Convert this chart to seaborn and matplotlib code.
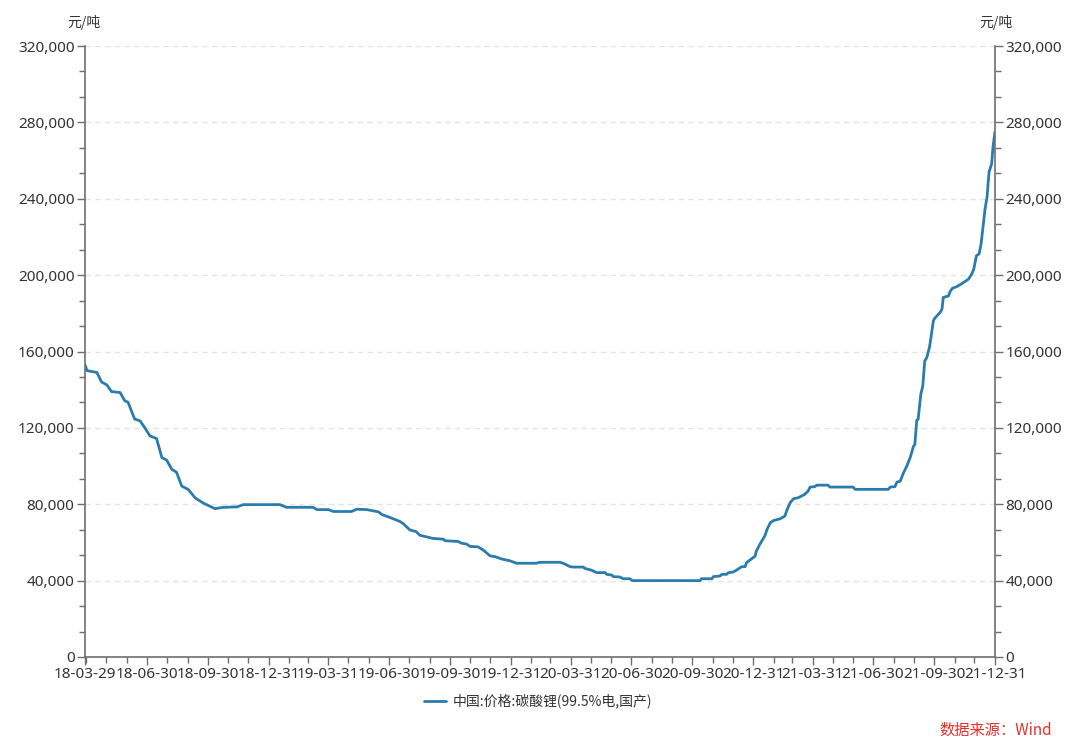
import matplotlib
matplotlib.use('Agg')
import matplotlib.pyplot as plt
import matplotlib.dates as mdates
import matplotlib.ticker as mticker
import seaborn as sns
import pandas as pd

# ---------------- data ----------------
series_name = "中国:价格:碳酸锂(99.5%电,国产)"
unit_label = "元/吨"
source_text = "数据来源：Wind"

dates = [
    "2018-03-29", "2018-04-01", "2018-04-16", "2018-04-23", "2018-05-01", "2018-05-08",
    "2018-05-21", "2018-05-28", "2018-06-02", "2018-06-07", "2018-06-12", "2018-06-20",
    "2018-06-27", "2018-07-05", "2018-07-15", "2018-07-23", "2018-07-30", "2018-08-07",
    "2018-08-14", "2018-08-22", "2018-09-01", "2018-09-11", "2018-09-23", "2018-10-11",
    "2018-10-24", "2018-11-13", "2018-11-23", "2019-01-17", "2019-01-27", "2019-03-08",
    "2019-03-14", "2019-03-31", "2019-04-08", "2019-05-05", "2019-05-13", "2019-05-28",
    "2019-06-15", "2019-06-20", "2019-07-02", "2019-07-17", "2019-07-22", "2019-08-01",
    "2019-08-11", "2019-08-16", "2019-08-24", "2019-09-05", "2019-09-21", "2019-09-23",
    "2019-10-13", "2019-10-18", "2019-10-26", "2019-10-31", "2019-11-12", "2019-11-20",
    "2019-11-30", "2019-12-08", "2019-12-18", "2019-12-30", "2020-01-09", "2020-02-08",
    "2020-02-13", "2020-03-15", "2020-03-22", "2020-03-30", "2020-04-04", "2020-04-19",
    "2020-04-21", "2020-05-01", "2020-05-09", "2020-05-22", "2020-05-24", "2020-06-01",
    "2020-06-03", "2020-06-13", "2020-06-18", "2020-06-28", "2020-07-02", "2020-10-12",
    "2020-10-14", "2020-10-30", "2020-11-01", "2020-11-11", "2020-11-14", "2020-11-21",
    "2020-11-24", "2020-12-01", "2020-12-06", "2020-12-14", "2020-12-19", "2020-12-21",
    "2020-12-29", "2021-01-03", "2021-01-05", "2021-01-10", "2021-01-13", "2021-01-18",
    "2021-01-21", "2021-01-26", "2021-01-31", "2021-02-10", "2021-02-17", "2021-02-20",
    "2021-02-25", "2021-03-02", "2021-03-09", "2021-03-14", "2021-03-19", "2021-03-24",
    "2021-03-27", "2021-04-03", "2021-04-06", "2021-04-23", "2021-04-26", "2021-05-31",
    "2021-06-03", "2021-07-23", "2021-07-26", "2021-08-02", "2021-08-05", "2021-08-10",
    "2021-08-15", "2021-08-20", "2021-08-25", "2021-08-30", "2021-09-01", "2021-09-04",
    "2021-09-06", "2021-09-10", "2021-09-13", "2021-09-16", "2021-09-19", "2021-09-23",
    "2021-09-25", "2021-09-29", "2021-10-01", "2021-10-09", "2021-10-12", "2021-10-14",
    "2021-10-22", "2021-10-24", "2021-10-28", "2021-11-03", "2021-11-08", "2021-11-16",
    "2021-11-21", "2021-11-26", "2021-11-29", "2021-12-03", "2021-12-07", "2021-12-10",
    "2021-12-12", "2021-12-16", "2021-12-19", "2021-12-22", "2021-12-26", "2021-12-28",
    "2021-12-31",
]

prices = [
    153000, 150000, 149000, 144000, 142500, 139000,
    138500, 134200, 133400, 128900, 124600, 123700,
    120200, 115800, 114400, 104400, 103200, 98300,
    96800, 89500, 87700, 83400, 80700, 77700,
    78400, 78600, 79800, 79800, 78400, 78400,
    77200, 77200, 76200, 76200, 77400, 77200,
    76000, 74600, 73100, 71000, 69900, 66600,
    65600, 63800, 63100, 62100, 61700, 60900,
    60500, 59600, 59100, 57900, 57700, 56000,
    53000, 52500, 51300, 50400, 49100, 49100,
    49600, 49600, 48700, 47300, 47100, 47100,
    46400, 45500, 44200, 44200, 43300, 42900,
    42100, 41900, 41000, 41000, 40000, 40000,
    41000, 41000, 42100, 42400, 43300, 43300,
    44200, 44500, 45500, 47300, 47300, 49400,
    51500, 52800, 55500, 58900, 60700, 63600,
    66800, 70300, 71500, 72400, 73800, 76900,
    80800, 82900, 83400, 84300, 85200, 86900,
    89000, 89200, 90000, 90000, 89000, 89000,
    87800, 87800, 89000, 89200, 91600, 92100,
    96500, 100000, 104400, 110400, 111200, 124000,
    124500, 137500, 141900, 155000, 156800, 162000,
    166400, 176000, 177400, 180400, 182100, 188300,
    189100, 191200, 193200, 193900, 194900, 196700,
    197900, 200600, 203200, 210200, 211100, 216300,
    222500, 234700, 240900, 254000, 258400, 267200,
    275100,
]

x_ticks = [
    "2018-03-29", "2018-06-30", "2018-09-30", "2018-12-31",
    "2019-03-31", "2019-06-30", "2019-09-30", "2019-12-31",
    "2020-03-31", "2020-06-30", "2020-09-30", "2020-12-31",
    "2021-03-31", "2021-06-30", "2021-09-30", "2021-12-31",
]
y_ticks = [0, 40000, 80000, 120000, 160000, 200000, 240000, 280000, 320000]

# ---------------- style ----------------
sns.set_theme(style="ticks")
plt.rcParams['font.family'] = ['Noto Sans', 'Noto Sans CJK SC', 'DejaVu Sans']
CJK = ['Noto Sans CJK SC', 'DejaVu Sans']

LINE_COLOR = "#2b7cad"
AXIS_COLOR = "#6e6e6e"
TEXT_COLOR = "#333333"
TICK_SIZE = 11

fig = plt.figure(figsize=(10.8, 7.53), dpi=100)
ax = fig.add_axes([85 / 1080, 1 - 657 / 753, 910 / 1080, 611 / 753])

df = pd.DataFrame({"date": pd.to_datetime(dates), "price": prices})
sns.lineplot(data=df, x="date", y="price", ax=ax, color=LINE_COLOR,
             linewidth=2.0, label=series_name)

xt = pd.to_datetime(x_ticks)
ax.set_xlim(xt[0], xt[-1])
ax.set_ylim(y_ticks[0], y_ticks[-1])

ax.xaxis.set_major_locator(mticker.FixedLocator(mdates.date2num(xt)))
ax.xaxis.set_major_formatter(mdates.DateFormatter('%y-%m-%d'))
ax.xaxis.set_minor_locator(mdates.MonthLocator(bymonthday=-1))

fmt = mticker.FuncFormatter(lambda v, p: f"{int(round(v)):,}")
ax.yaxis.set_major_locator(mticker.FixedLocator(y_ticks))
ax.yaxis.set_minor_locator(mticker.AutoMinorLocator(3))
ax.yaxis.set_major_formatter(fmt)

ax.set_xlabel("")
ax.set_ylabel("")

ax.yaxis.grid(True, which='major', linestyle=(0, (4, 3)), color="#e4e4e4", linewidth=1)
ax.set_axisbelow(True)

for s in ["top", "right"]:
    ax.spines[s].set_visible(False)
for s in ["left", "bottom"]:
    ax.spines[s].set_color(AXIS_COLOR)
    ax.spines[s].set_linewidth(1.2)

ax.tick_params(axis='both', which='major', direction='out', length=6, width=1,
               color=AXIS_COLOR, labelsize=TICK_SIZE, labelcolor=TEXT_COLOR, pad=1.5)
ax.tick_params(axis='both', which='minor', direction='out', length=4, width=1,
               color=AXIS_COLOR)

# right axis (same scale)
ax2 = ax.twinx()
ax2.set_ylim(y_ticks[0], y_ticks[-1])
ax2.yaxis.set_major_locator(mticker.FixedLocator(y_ticks))
ax2.yaxis.set_minor_locator(mticker.AutoMinorLocator(3))
ax2.yaxis.set_major_formatter(fmt)
for s in ["top", "left", "bottom"]:
    ax2.spines[s].set_visible(False)
ax2.spines["right"].set_color(AXIS_COLOR)
ax2.spines["right"].set_linewidth(1.2)
ax2.tick_params(axis='y', which='major', direction='out', length=6, width=1,
                color=AXIS_COLOR, labelsize=TICK_SIZE, labelcolor=TEXT_COLOR, pad=1.5)
ax2.tick_params(axis='y', which='minor', direction='out', length=4, width=1,
                color=AXIS_COLOR)

# unit labels
fig.text(84 / 1080, 1 - 22 / 753, unit_label, ha='center', va='center',
         fontsize=10, color=TEXT_COLOR, family=CJK)
fig.text(996 / 1080, 1 - 22 / 753, unit_label, ha='center', va='center',
         fontsize=10, color=TEXT_COLOR, family=CJK)

# legend
handles, labels = ax.get_legend_handles_labels()
ax.get_legend().remove()
fig.legend(handles, labels, loc='center', bbox_to_anchor=(538 / 1080, 1 - 701 / 753),
           frameon=False, handlelength=1.6, handletextpad=0.5,
           labelcolor=TEXT_COLOR, prop={'family': CJK, 'size': 10})

# source
fig.text(1052 / 1080, 1 - 730 / 753, source_text, ha='right', va='center',
         fontsize=11, color="#e8302a", family=CJK)

fig.savefig("out.png", dpi=100)
